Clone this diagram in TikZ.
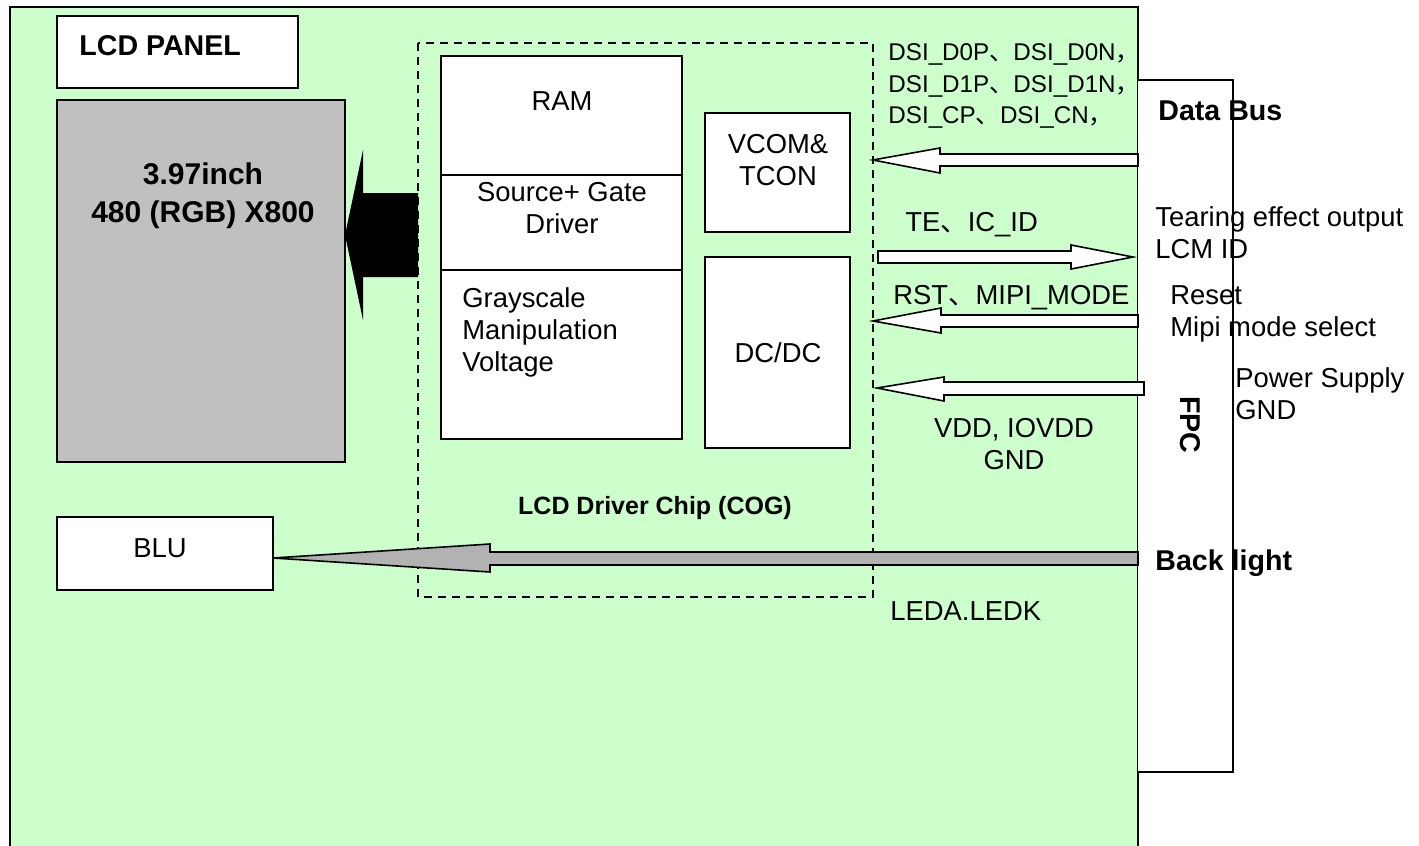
\documentclass[tikz,border=0pt]{standalone}
\usepackage{fontspec}
\setmainfont{Liberation Sans}
\newfontfamily\cjk{Noto Sans CJK SC}
\definecolor{boardgreen}{HTML}{CCFFCC}
\definecolor{panelgray}{HTML}{C0C0C0}
\definecolor{bklgray}{HTML}{B2B2B2}
\begin{document}
\begin{tikzpicture}[x=0.5pt, y=-0.5pt, line join=miter,
  frame/.style={draw=black, line width=1pt},
  arr/.style={draw=black, line width=0.8pt, fill=white},
  txt/.style={inner sep=0pt, font=\fontsize{13.7}{16}\selectfont},
  sig/.style={inner sep=0pt, font=\fontsize{12.1}{15.8}\selectfont},
  head/.style={inner sep=0pt, font=\bfseries\fontsize{14.3}{17}\selectfont}]
    % Khung và nền
    \useasboundingbox (0,0) rectangle (1419,846);
    \fill[white] (0,0) rectangle (1419,846);
    \filldraw[frame, fill=boardgreen] (10,846) -- (10,7) -- (1138,7) -- (1138,846);

    % FPC
    \draw[frame, fill=white] (1138,80) -- (1233,80) -- (1233,772) -- (1138,772);

    % LCD panel
    \draw[frame, fill=white] (57,16) rectangle (298,88);
    \node[head, anchor=west] (paneltitle) at (79,46) {LCD PANEL};
    \draw[frame, fill=panelgray] (57,100) rectangle (345,462);
    \node[head, align=center, font=\bfseries\fontsize{15}{19}\selectfont] (panelsize) at (203,196)
        {3.97inch\\480 (RGB) X800};

    % Mũi tên đen tới panel
    \fill[black] (418,193) -- (363,193) -- (363,150) -- (345,235) -- (363,320)
        -- (363,277) -- (418,277) -- cycle;

    % Driver chip (COG)
    \draw[line width=0.8pt, dash pattern=on 4pt off 3pt] (418,43) rectangle (873,597);
    \draw[frame, fill=white] (441,56) rectangle (682,439);
    \draw[frame] (441,175) -- (682,175);
    \draw[frame] (441,270) -- (682,270);
    \node[txt] (ram) at (562,101) {RAM};
    \node[txt, align=center] (srcgate) at (562,208) {Source+ Gate\\Driver};
    \node[txt, align=left, anchor=west] (gray) at (462,332) {Grayscale\\Manipulation\\Voltage};
    \draw[frame, fill=white] (705,113) rectangle (850,232);
    \node[txt, align=center] (vcom) at (778,160) {VCOM\&\\TCON};
    \draw[frame, fill=white] (705,257) rectangle (850,448);
    \node[txt] (dcdc) at (778,353) {DC/DC};
    \node[head, font=\bfseries\fontsize{12.5}{15}\selectfont] (cog) at (655,508) {LCD Driver Chip (COG)};

    % BLU
    \draw[frame, fill=white] (57,517) rectangle (273,590);
    \node[txt] (blu) at (160,548) {BLU};

    % Các mũi tên tín hiệu
    \filldraw[arr] (1138,154) -- (940,154) -- (940,148) -- (873,160) -- (940,173)
        -- (940,166) -- (1138,166) -- cycle;
    \filldraw[arr] (878,251) -- (1071,251) -- (1071,245) -- (1133,257) -- (1071,269)
        -- (1071,263) -- (878,263) -- cycle;
    \filldraw[arr] (1138,315) -- (941,315) -- (941,308) -- (873,321) -- (941,333)
        -- (941,327) -- (1138,327) -- cycle;
    \filldraw[arr] (1144,382) -- (944,382) -- (944,377) -- (877,388) -- (944,401)
        -- (944,395) -- (1144,395) -- cycle;
    \filldraw[arr, fill=bklgray] (1138,552) -- (490,552) -- (490,544) -- (273,558) -- (490,572)
        -- (490,565) -- (1138,565) -- cycle;

    % Nhãn tín hiệu
    \node[sig, align=left, anchor=west] (dsi) at (888,86)
        {DSI\_D0P{\cjk 、}DSI\_D0N{\cjk ，}\\DSI\_D1P{\cjk 、}DSI\_D1N{\cjk ，}\\DSI\_CP{\cjk 、}DSI\_CN{\cjk ，}};
    \node[txt, anchor=west] (te) at (905,225) {TE{\cjk 、}IC\_ID};
    \node[txt, anchor=west] (rst) at (893,298) {RST{\cjk 、}MIPI\_MODE};
    \node[txt, align=center] (vdd) at (1014,444) {VDD, IOVDD\\GND};
    \node[txt, anchor=west] (leda) at (890,611) {LEDA.LEDK};

    % Nhãn bên phải
    \node[head, anchor=west] (databus) at (1158,111) {Data Bus};
    \node[txt, align=left, anchor=west] (tearing) at (1155,233) {Tearing effect output\\LCM ID};
    \node[txt, align=left, anchor=west] (reset) at (1170,314) {Reset\\Mipi mode select};
    \node[txt, align=left, anchor=west] (power) at (1235,394) {Power Supply\\GND};
    \node[head, rotate=-90] (fpc) at (1190,425) {FPC};
    \node[head, anchor=west] (backlight) at (1155,563) {Back light};
\end{tikzpicture}
\end{document}
